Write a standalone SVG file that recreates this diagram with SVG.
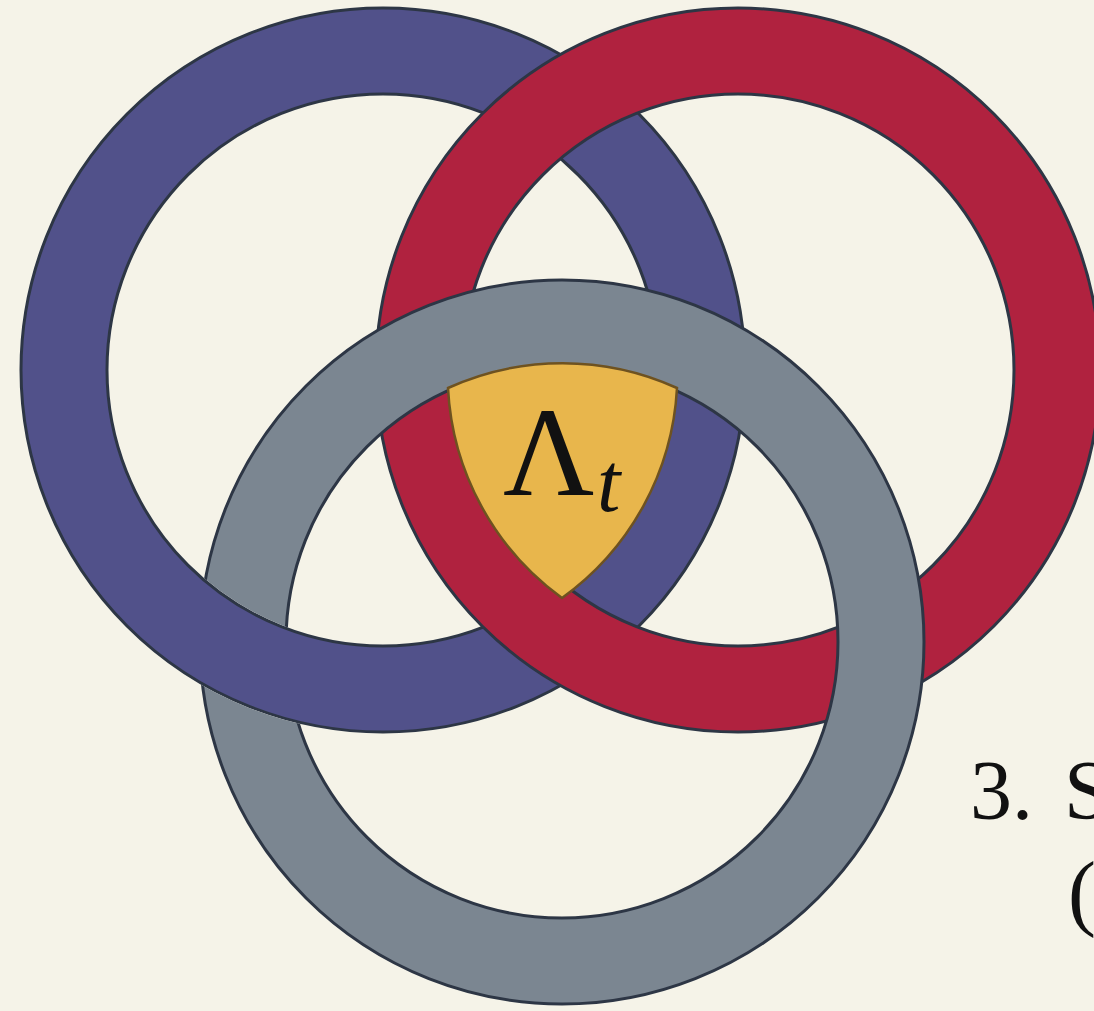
<svg xmlns="http://www.w3.org/2000/svg" width="1094" height="1011" viewBox="0 0 1094 1011">
<style>
.edge{fill:none;stroke:#2d3645;stroke-width:89}
.blue{fill:none;stroke:#51518a;stroke-width:83}
.red{fill:none;stroke:#b0223f;stroke-width:83}
.gray{fill:none;stroke:#7b8691;stroke-width:83}
.lbl{font-family:"Liberation Serif","DejaVu Serif",serif;fill:#111}
</style>
<defs>
<clipPath id="clipBL"><circle cx="243" cy="657" r="130"/></clipPath>
<mask id="grayMask" maskUnits="userSpaceOnUse" x="0" y="0" width="1094" height="1011">
<rect x="0" y="0" width="1094" height="1011" fill="#fff"/>
<g clip-path="url(#clipBL)">
<circle cx="383" cy="370" r="319" fill="none" stroke="#000" stroke-width="89"/>
</g>
</mask>
</defs>
<rect x="0" y="0" width="1094" height="1011" fill="#f5f3e8"/>
<g id="ring-blue">
<circle class="edge" cx="383" cy="370" r="319"/>
<circle class="blue" cx="383" cy="370" r="319"/>
</g>
<g id="ring-red">
<circle class="edge" cx="738" cy="370" r="319"/>
<circle class="red" cx="738" cy="370" r="319"/>
</g>
<g id="ring-gray" mask="url(#grayMask)">
<circle class="edge" cx="562" cy="642" r="319"/>
<circle class="gray" cx="562" cy="642" r="319"/>
</g>
<g id="lambda-region">
<path d="M448,388 A277,277 0 0 1 677,388 A277,277 0 0 1 562,598 A277,277 0 0 1 448,388 Z" fill="#e8b64c" stroke="#6e5220" stroke-width="2.5"/>
<text class="lbl" x="503" y="495" font-size="126">Λ</text>
<text class="lbl" x="597" y="511" font-size="84" font-style="italic">t</text>
</g>
<g id="caption">
<text class="lbl" x="970" y="819" font-size="84">3.<tspan x="1064">S</tspan></text>
<text class="lbl" x="1068" y="920" font-size="84">(</text>
</g>
</svg>
